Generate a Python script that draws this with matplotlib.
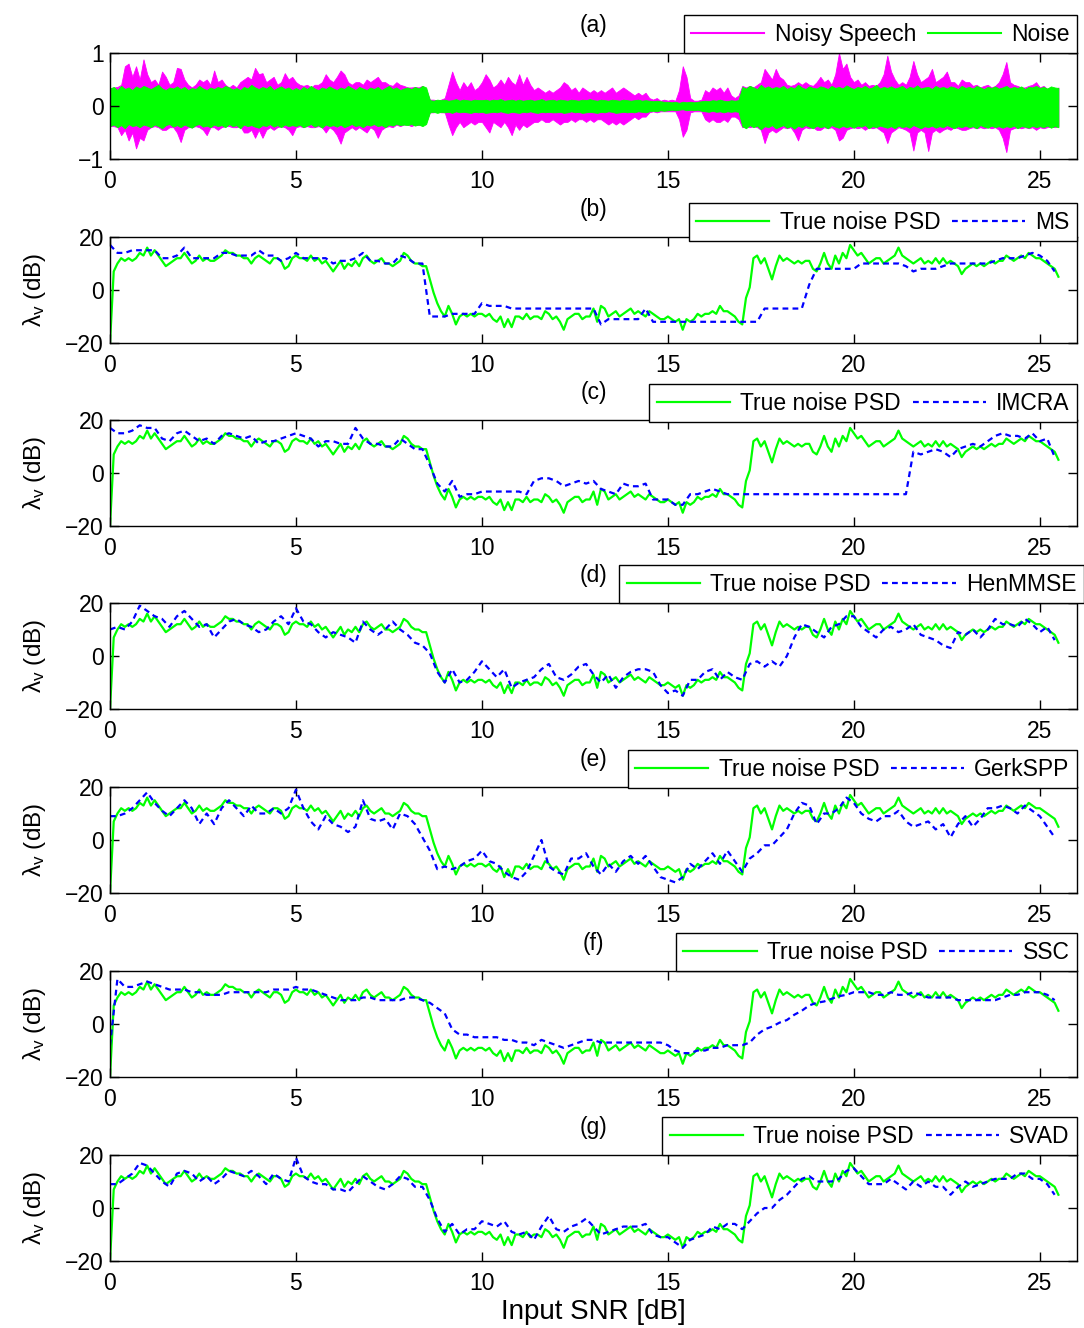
import numpy as np
import matplotlib
matplotlib.use("Agg")
import matplotlib.pyplot as plt
from matplotlib.lines import Line2D

plt.rcParams['font.family'] = ['Liberation Sans', 'DejaVu Sans']
plt.rcParams['mathtext.fontset'] = 'custom'
plt.rcParams['mathtext.rm'] = 'Liberation Sans'
plt.rcParams['mathtext.it'] = 'Liberation Sans'
plt.rcParams['mathtext.bf'] = 'Liberation Sans:bold'

# ---------------- data ----------------
# time grids (s)
t_fine = np.arange(256) * 0.1      # 0.0 .. 25.5
t_est = np.arange(128) * 0.2       # 0.0 .. 25.4

# panel (a): waveform envelopes (noisy speech upper/lower, noise upper/lower)
speech_up = [
    0.33, 0.35, 0.36, 0.40, 0.75, 0.80, 0.55, 0.75, 0.50, 0.88,
    0.60, 0.45, 0.50, 0.40, 0.65, 0.55, 0.40, 0.45, 0.72, 0.70,
    0.50, 0.40, 0.35, 0.40, 0.50, 0.45, 0.50, 0.40, 0.67, 0.45,
    0.50, 0.40, 0.35, 0.40, 0.35, 0.45, 0.50, 0.55, 0.50, 0.72,
    0.60, 0.62, 0.45, 0.50, 0.55, 0.40, 0.45, 0.62, 0.50, 0.55,
    0.45, 0.40, 0.38, 0.40, 0.35, 0.40, 0.40, 0.45, 0.60, 0.50,
    0.45, 0.55, 0.67, 0.60, 0.45, 0.40, 0.45, 0.45, 0.40, 0.50,
    0.45, 0.50, 0.55, 0.45, 0.45, 0.40, 0.38, 0.45, 0.40, 0.38,
    0.35, 0.35, 0.36, 0.35, 0.38, 0.30, 0.12, 0.12, 0.10, 0.12,
    0.15, 0.40, 0.65, 0.45, 0.30, 0.45, 0.35, 0.45, 0.30, 0.35,
    0.45, 0.60, 0.50, 0.35, 0.40, 0.50, 0.40, 0.55, 0.45, 0.40,
    0.60, 0.40, 0.55, 0.40, 0.30, 0.35, 0.30, 0.25, 0.30, 0.25,
    0.30, 0.35, 0.45, 0.40, 0.30, 0.35, 0.25, 0.35, 0.30, 0.25,
    0.30, 0.25, 0.30, 0.25, 0.30, 0.35, 0.25, 0.30, 0.35, 0.30,
    0.25, 0.20, 0.25, 0.20, 0.25, 0.15, 0.12, 0.15, 0.10, 0.12,
    0.10, 0.12, 0.10, 0.30, 0.75, 0.55, 0.15, 0.10, 0.10, 0.12,
    0.30, 0.25, 0.35, 0.30, 0.35, 0.25, 0.35, 0.20, 0.15, 0.20,
    0.38, 0.35, 0.38, 0.35, 0.40, 0.45, 0.70, 0.60, 0.50, 0.70,
    0.55, 0.50, 0.40, 0.38, 0.40, 0.45, 0.40, 0.45, 0.40, 0.38,
    0.45, 0.55, 0.45, 0.50, 0.40, 0.60, 1.00, 0.70, 0.80, 0.55,
    0.45, 0.50, 0.40, 0.45, 0.38, 0.40, 0.38, 0.45, 0.60, 0.95,
    0.65, 0.50, 0.40, 0.45, 0.40, 0.55, 0.85, 0.60, 0.45, 0.50,
    0.55, 0.70, 0.45, 0.50, 0.55, 0.65, 0.45, 0.45, 0.38, 0.50,
    0.45, 0.45, 0.38, 0.40, 0.35, 0.38, 0.40, 0.35, 0.38, 0.45,
    0.60, 0.83, 0.45, 0.40, 0.38, 0.35, 0.35, 0.38, 0.40, 0.45,
    0.35, 0.38, 0.32, 0.35, 0.30, 0.35]
speech_lo = [
    -0.38, -0.38, -0.40, -0.55, -0.45, -0.65, -0.50, -0.80, -0.60, -0.65,
    -0.45, -0.40, -0.38, -0.40, -0.45, -0.45, -0.40, -0.40, -0.50, -0.68,
    -0.45, -0.40, -0.40, -0.38, -0.40, -0.45, -0.55, -0.40, -0.40, -0.45,
    -0.40, -0.38, -0.38, -0.40, -0.40, -0.38, -0.50, -0.50, -0.45, -0.60,
    -0.45, -0.60, -0.45, -0.40, -0.45, -0.40, -0.38, -0.40, -0.45, -0.55,
    -0.40, -0.38, -0.40, -0.38, -0.40, -0.40, -0.38, -0.40, -0.50, -0.40,
    -0.45, -0.55, -0.71, -0.50, -0.45, -0.40, -0.45, -0.40, -0.45, -0.50,
    -0.40, -0.45, -0.60, -0.45, -0.40, -0.38, -0.40, -0.35, -0.38, -0.35,
    -0.35, -0.38, -0.35, -0.36, -0.35, -0.30, -0.12, -0.12, -0.10, -0.12,
    -0.12, -0.35, -0.55, -0.40, -0.30, -0.40, -0.35, -0.30, -0.35, -0.30,
    -0.30, -0.40, -0.50, -0.30, -0.35, -0.40, -0.30, -0.40, -0.55, -0.35,
    -0.45, -0.35, -0.40, -0.35, -0.30, -0.30, -0.25, -0.30, -0.30, -0.25,
    -0.30, -0.35, -0.30, -0.30, -0.25, -0.30, -0.25, -0.25, -0.30, -0.25,
    -0.30, -0.25, -0.25, -0.30, -0.35, -0.30, -0.35, -0.30, -0.35, -0.30,
    -0.25, -0.20, -0.25, -0.20, -0.20, -0.12, -0.10, -0.12, -0.10, -0.10,
    -0.10, -0.10, -0.10, -0.25, -0.58, -0.45, -0.12, -0.10, -0.10, -0.10,
    -0.25, -0.30, -0.25, -0.30, -0.30, -0.25, -0.30, -0.20, -0.20, -0.25,
    -0.40, -0.38, -0.40, -0.38, -0.40, -0.45, -0.70, -0.50, -0.45, -0.50,
    -0.45, -0.40, -0.42, -0.40, -0.50, -0.65, -0.45, -0.40, -0.42, -0.40,
    -0.45, -0.45, -0.40, -0.42, -0.40, -0.45, -0.65, -0.60, -0.45, -0.42,
    -0.40, -0.42, -0.40, -0.45, -0.40, -0.42, -0.40, -0.45, -0.50, -0.70,
    -0.50, -0.45, -0.40, -0.42, -0.45, -0.50, -0.84, -0.50, -0.45, -0.50,
    -0.85, -0.50, -0.45, -0.50, -0.45, -0.42, -0.45, -0.40, -0.42, -0.45,
    -0.45, -0.42, -0.40, -0.42, -0.40, -0.42, -0.40, -0.42, -0.40, -0.45,
    -0.60, -0.87, -0.45, -0.42, -0.40, -0.42, -0.40, -0.42, -0.40, -0.45,
    -0.40, -0.42, -0.40, -0.38, -0.40, -0.38]
noise_up = [
    0.33, 0.36, 0.30, 0.38, 0.32, 0.35, 0.30, 0.37, 0.33, 0.38,
    0.35, 0.32, 0.36, 0.40, 0.33, 0.30, 0.35, 0.33, 0.37, 0.32,
    0.36, 0.30, 0.34, 0.32, 0.38, 0.33, 0.30, 0.35, 0.32, 0.36,
    0.33, 0.38, 0.35, 0.31, 0.34, 0.30, 0.36, 0.33, 0.40, 0.35,
    0.32, 0.36, 0.33, 0.38, 0.30, 0.34, 0.37, 0.32, 0.35, 0.30,
    0.34, 0.30, 0.36, 0.32, 0.38, 0.33, 0.30, 0.35, 0.32, 0.37,
    0.33, 0.30, 0.35, 0.32, 0.38, 0.34, 0.30, 0.36, 0.33, 0.30,
    0.35, 0.32, 0.36, 0.30, 0.34, 0.38, 0.32, 0.35, 0.30, 0.33,
    0.35, 0.32, 0.36, 0.33, 0.38, 0.35, 0.11, 0.10, 0.12, 0.11,
    0.12, 0.10, 0.11, 0.13, 0.10, 0.12, 0.11, 0.10, 0.12, 0.11,
    0.11, 0.12, 0.10, 0.12, 0.11, 0.13, 0.10, 0.11, 0.12, 0.10,
    0.12, 0.10, 0.11, 0.12, 0.10, 0.11, 0.13, 0.10, 0.11, 0.12,
    0.10, 0.12, 0.11, 0.10, 0.12, 0.11, 0.10, 0.12, 0.11, 0.13,
    0.11, 0.10, 0.12, 0.11, 0.10, 0.12, 0.11, 0.10, 0.12, 0.11,
    0.10, 0.11, 0.12, 0.10, 0.11, 0.10, 0.09, 0.10, 0.09, 0.08,
    0.08, 0.07, 0.08, 0.06, 0.08, 0.07, 0.08, 0.07, 0.08, 0.09,
    0.10, 0.09, 0.11, 0.10, 0.12, 0.10, 0.09, 0.11, 0.10, 0.11,
    0.36, 0.33, 0.38, 0.35, 0.32, 0.40, 0.34, 0.37, 0.33, 0.36,
    0.34, 0.38, 0.32, 0.36, 0.33, 0.40, 0.35, 0.32, 0.37, 0.34,
    0.33, 0.37, 0.35, 0.32, 0.38, 0.34, 0.36, 0.33, 0.39, 0.35,
    0.32, 0.36, 0.34, 0.38, 0.33, 0.35, 0.40, 0.33, 0.36, 0.34,
    0.37, 0.33, 0.35, 0.38, 0.32, 0.36, 0.34, 0.39, 0.33, 0.35,
    0.36, 0.32, 0.38, 0.34, 0.36, 0.33, 0.37, 0.35, 0.32, 0.38,
    0.34, 0.36, 0.33, 0.38, 0.35, 0.32, 0.36, 0.34, 0.37, 0.33,
    0.35, 0.38, 0.33, 0.36, 0.34, 0.37, 0.32, 0.36, 0.35, 0.38,
    0.34, 0.36, 0.33, 0.37, 0.35, 0.34]
noise_lo = [
    -0.38, -0.35, -0.40, -0.36, -0.42, -0.34, -0.38, -0.36, -0.40, -0.35,
    -0.37, -0.40, -0.35, -0.38, -0.42, -0.36, -0.34, -0.39, -0.36, -0.40,
    -0.35, -0.38, -0.41, -0.36, -0.34, -0.39, -0.37, -0.40, -0.35, -0.38,
    -0.36, -0.40, -0.34, -0.38, -0.36, -0.42, -0.35, -0.38, -0.36, -0.39,
    -0.41, -0.36, -0.38, -0.34, -0.39, -0.36, -0.40, -0.35, -0.38, -0.36,
    -0.38, -0.35, -0.40, -0.37, -0.34, -0.39, -0.36, -0.41, -0.35, -0.38,
    -0.36, -0.39, -0.35, -0.40, -0.37, -0.34, -0.38, -0.36, -0.40, -0.35,
    -0.37, -0.34, -0.38, -0.36, -0.40, -0.35, -0.37, -0.34, -0.36, -0.35,
    -0.36, -0.34, -0.37, -0.35, -0.38, -0.34, -0.12, -0.11, -0.13, -0.11,
    -0.12, -0.11, -0.13, -0.10, -0.12, -0.11, -0.12, -0.13, -0.11, -0.12,
    -0.11, -0.13, -0.12, -0.11, -0.12, -0.10, -0.12, -0.13, -0.11, -0.12,
    -0.13, -0.11, -0.12, -0.10, -0.12, -0.13, -0.11, -0.12, -0.11, -0.12,
    -0.12, -0.11, -0.13, -0.12, -0.10, -0.12, -0.11, -0.13, -0.12, -0.11,
    -0.12, -0.13, -0.11, -0.12, -0.10, -0.11, -0.13, -0.12, -0.11, -0.12,
    -0.11, -0.12, -0.10, -0.11, -0.12, -0.10, -0.09, -0.10, -0.08, -0.09,
    -0.08, -0.07, -0.08, -0.07, -0.06, -0.08, -0.07, -0.08, -0.07, -0.09,
    -0.10, -0.11, -0.09, -0.11, -0.10, -0.12, -0.10, -0.11, -0.10, -0.11,
    -0.38, -0.42, -0.36, -0.40, -0.37, -0.44, -0.38, -0.40, -0.36, -0.42,
    -0.39, -0.36, -0.41, -0.38, -0.43, -0.37, -0.40, -0.36, -0.39, -0.42,
    -0.37, -0.40, -0.38, -0.42, -0.36, -0.39, -0.41, -0.37, -0.40, -0.38,
    -0.41, -0.37, -0.39, -0.36, -0.42, -0.38, -0.40, -0.37, -0.39, -0.41,
    -0.38, -0.42, -0.37, -0.40, -0.38, -0.41, -0.36, -0.39, -0.42, -0.38,
    -0.40, -0.37, -0.41, -0.38, -0.40, -0.36, -0.39, -0.42, -0.38, -0.40,
    -0.37, -0.40, -0.38, -0.42, -0.36, -0.39, -0.41, -0.37, -0.40, -0.38,
    -0.41, -0.38, -0.40, -0.37, -0.42, -0.38, -0.39, -0.41, -0.37, -0.40,
    -0.38, -0.40, -0.37, -0.41, -0.38, -0.40]

# true noise PSD (dB), on t_fine
true_psd = [
    -20, 7, 10, 12, 11, 12, 11, 12, 14, 13,
    16, 13, 15, 13, 11, 9, 10, 11, 12, 12,
    14, 12, 10, 11, 13, 11, 12, 11, 11, 12,
    13, 15, 14, 14, 13, 13, 12, 12, 10, 12,
    13, 12, 11, 10, 12, 12, 11, 8, 9, 12,
    13, 12, 12, 11, 13, 11, 12, 10, 11, 9,
    7, 9, 11, 8, 10, 9, 11, 9, 12, 13,
    11, 10, 11, 12, 10, 10, 9, 10, 11, 14,
    13, 11, 10, 10, 9, 9, 4, -1, -5, -8,
    -10, -6, -9, -13, -10, -9, -10, -9, -10, -9,
    -9, -10, -9, -11, -12, -10, -14, -11, -14, -10,
    -10, -11, -9, -11, -10, -10, -11, -8, -9, -11,
    -10, -12, -15, -11, -10, -9, -9, -11, -10, -10,
    -7, -12, -6, -7, -10, -9, -8, -10, -9, -8,
    -7, -9, -8, -9, -10, -8, -9, -10, -11, -11,
    -10, -11, -12, -11, -15, -11, -12, -11, -9, -10,
    -9, -9, -8, -9, -6, -8, -8, -9, -10, -12,
    -13, -3, 1, 12, 13, 10, 12, 8, 4, 9,
    13, 11, 12, 11, 10, 11, 10, 11, 11, 8,
    7, 10, 14, 10, 8, 13, 10, 14, 12, 17,
    15, 13, 14, 12, 10, 11, 12, 12, 10, 11,
    12, 13, 16, 13, 12, 11, 10, 11, 12, 10,
    11, 10, 12, 10, 12, 10, 11, 10, 9, 6,
    8, 9, 10, 9, 10, 9, 10, 11, 10, 11,
    11, 13, 12, 11, 12, 13, 12, 14, 13, 12,
    12, 11, 10, 9, 8, 5]

# estimated noise PSDs (dB), on t_est
ms_est = [
    17, 14, 14, 15, 15, 15, 15, 12, 12, 13,
    16, 12, 12, 12, 12, 14, 14, 13, 13, 13,
    15, 13, 13, 11, 12, 14, 12, 12, 12, 12,
    10, 11, 11, 12, 14, 11, 11, 10, 10, 13,
    12, 10, 10, -10, -10, -10, -9, -9, -9, -9,
    -5, -6, -6, -6, -7, -7, -7, -7, -7, -7,
    -7, -7, -7, -7, -7, -7, -13, -11, -11, -11,
    -11, -11, -7, -12, -12, -12, -12, -12, -12, -12,
    -12, -12, -12, -12, -12, -12, -12, -12, -7, -7,
    -7, -7, -7, -7, 2, 8, 8, 8, 8, 8,
    8, 10, 10, 10, 10, 10, 10, 9, 7, 8,
    8, 8, 9, 10, 10, 10, 10, 10, 10, 11,
    12, 12, 12, 13, 14, 13, 11, 7]
imcra_est = [
    17, 15, 15, 16, 18, 17, 17, 13, 12, 15,
    16, 14, 12, 13, 11, 14, 15, 14, 13, 14,
    11, 12, 12, 13, 14, 15, 14, 13, 10, 12,
    12, 11, 11, 17, 13, 11, 11, 10, 10, 13,
    11, 9, 9, 3, -4, -7, -3, -9, -8, -8,
    -7, -7, -7, -7, -7, -7, -8, -3, -2, -2,
    -3, -5, -4, -3, -4, -3, -6, -7, -8, -4,
    -5, -5, -4, -10, -10, -10, -12, -12, -8, -8,
    -7, -6, -7, -8, -8, -8, -8, -8, -8, -8,
    -8, -8, -8, -8, -8, -8, -8, -8, -8, -8,
    -8, -8, -8, -8, -8, -8, -8, -8, 8, 7,
    8, 9, 8, 6, 9, 10, 11, 10, 12, 14,
    15, 14, 14, 13, 15, 12, 13, 6]
henmmse_est = [
    10, 11, 10, 13, 19, 17, 15, 14, 11, 15,
    17, 14, 11, 12, 7, 10, 13, 14, 12, 11,
    9, 10, 13, 15, 12, 18, 13, 12, 9, 7,
    9, 8, 7, 5, 13, 10, 8, 10, 13, 10,
    8, 5, 4, 1, -6, -10, -5, -10, -9, -6,
    -2, -5, -8, -5, -12, -10, -9, -8, -5, -3,
    -8, -9, -7, -4, -3, -7, -10, -7, -12, -8,
    -6, -5, -5, -6, -11, -14, -13, -15, -9, -9,
    -6, -5, -9, -6, -8, -9, -3, -2, -4, -2,
    -4, 0, 7, 12, 11, 9, 7, 11, 12, 15,
    15, 11, 9, 7, 10, 11, 9, 10, 12, 8,
    7, 6, 4, 3, 9, 8, 10, 7, 10, 14,
    12, 12, 11, 14, 12, 9, 11, 6]
gerkspp_est = [
    9, 9, 10, 12, 15, 18, 14, 11, 9, 12,
    15, 12, 6, 10, 6, 12, 15, 12, 9, 13,
    10, 10, 12, 10, 12, 19, 12, 7, 4, 9,
    6, 5, 3, 5, 15, 8, 7, 8, 4, 10,
    9, 6, 1, -4, -11, -10, -11, -10, -8, -7,
    -4, -8, -9, -12, -14, -15, -12, -6, 0, -10,
    -12, -13, -7, -7, -5, -10, -13, -9, -12, -8,
    -6, -9, -6, -10, -14, -15, -16, -14, -9, -11,
    -8, -5, -9, -4, -8, -12, -7, -5, -2, -2,
    1, 4, 10, 14, 13, 6, 10, 10, 12, 16,
    14, 10, 8, 7, 9, 9, 11, 7, 5, 6,
    7, 4, 6, 1, 6, 9, 5, 8, 12, 12,
    13, 12, 10, 13, 11, 9, 5, 1]
ssc_est = [
    -8, 17, 14, 14, 15, 16, 15, 14, 13, 13,
    13, 12, 12, 11, 11, 11, 12, 12, 12, 12,
    12, 12, 13, 13, 13, 14, 13, 13, 12, 11,
    10, 9, 9, 9, 10, 10, 9, 9, 9, 9,
    10, 10, 9, 8, 6, 4, -2, -4, -4, -5,
    -5, -5, -5, -6, -6, -7, -7, -8, -6, -7,
    -8, -9, -8, -7, -6, -6, -7, -7, -7, -7,
    -7, -7, -7, -7, -7, -8, -10, -11, -11, -10,
    -10, -9, -9, -8, -8, -8, -7, -4, -2, -1,
    0.5, 1.5, 3.5, 5, 7, 8, 8.5, 9.5, 10.5, 11,
    12, 12, 12, 11, 11, 12, 11, 11, 12, 11,
    10, 10, 10, 10, 9, 9, 9, 9, 9, 9,
    10, 11, 11, 12, 12, 12, 11, 9]
svad_est = [
    9, 9, 11, 13, 17, 16, 13, 10, 8, 13,
    14, 13, 10, 12, 9, 11, 14, 13, 12, 14,
    12, 9, 13, 11, 10, 19, 12, 10, 9, 9,
    7, 7, 6, 9, 12, 10, 8, 7, 9, 12,
    11, 8, 8, 3, -4, -9, -6, -10, -8, -8,
    -5, -6, -7, -5, -9, -10, -9, -12, -7, -3,
    -8, -9, -7, -6, -4, -7, -10, -9, -8, -7,
    -7, -7, -6, -10, -11, -11, -13, -15, -12, -11,
    -10, -7, -8, -6, -6, -8, -5, -2, 0, 0,
    3, 5, 8, 11, 12, 10, 10, 10, 11, 14,
    15, 12, 9, 9, 9, 11, 9, 7, 10, 8,
    10, 8, 8, 5, 8, 10, 8, 9, 10, 11,
    11, 11, 13, 13, 11, 11, 9, 5]

panel_tags = ['(a)', '(b)', '(c)', '(d)', '(e)', '(f)', '(g)']
est_names = ['MS', 'IMCRA', 'HenMMSE', 'GerkSPP', 'SSC', 'SVAD']
est_series = [ms_est, imcra_est, henmmse_est, gerkspp_est, ssc_est, svad_est]
x_ticks = [0, 5, 10, 15, 20, 25]

# ---------------- layout ----------------
W, H = 1084, 1328
fig = plt.figure(figsize=(W / 100, H / 100), dpi=100)
tops = [53, 237, 420, 603, 787, 971, 1155]
ax_h = 106
left_px, right_px = 110, 1077
leg_y = [1.0, 0.962, 0.98, 1.0, 0.99, 1.0, 1.0]
leg_x = [1.0, 1.0, 1.0, 1.007, 1.0, 1.0, 1.0]

GREEN = '#00ff00'
BLUE = '#0000ff'
MAGENTA = '#ff00ff'
FS = 16.5
dash = (0, (2.6, 1.9))

axes = []
for i, top in enumerate(tops):
    ax = fig.add_axes([left_px / W, 1 - (top + ax_h) / H,
                       (right_px - left_px) / W, ax_h / H])
    axes.append(ax)

def style(ax, yticks):
    ax.set_xlim(0, 26)
    ax.set_xticks(x_ticks)
    ax.set_yticks(yticks)
    ax.tick_params(direction='in', length=6.5, width=1.0, top=True, right=True,
                   labelsize=FS)
    ax.tick_params(axis='x', pad=8)
    ax.tick_params(axis='y', pad=4.5)
    for s in ax.spines.values():
        s.set_linewidth(1.0)

def add_legend(ax, handles, labels, i):
    leg = ax.legend(handles, labels, ncol=2, loc='lower right',
                    bbox_to_anchor=(leg_x[i], leg_y[i]), borderaxespad=0,
                    fontsize=FS, frameon=True, fancybox=False, framealpha=1,
                    edgecolor='black', handlelength=3.2, handletextpad=0.45,
                    columnspacing=0.5, borderpad=0.32)
    leg.get_frame().set_linewidth(1.0)

def add_tag(ax, tag):
    ax.annotate(tag, xy=(0.5, 1.0), xycoords='axes fraction',
                xytext=(0, 20), textcoords='offset points',
                ha='center', va='center', fontsize=FS)

# panel (a)
ax = axes[0]
ax.fill_between(t_fine, speech_lo, speech_up, color=MAGENTA, lw=0.6,
                edgecolor=MAGENTA)
ax.fill_between(t_fine, noise_lo, noise_up, color=GREEN, lw=0.6,
                edgecolor=GREEN)
ax.set_ylim(-1, 1)
style(ax, [-1, 0, 1])
add_tag(ax, panel_tags[0])
add_legend(ax, [Line2D([], [], color=MAGENTA, lw=1.5),
                Line2D([], [], color=GREEN, lw=1.5)],
           ['Noisy Speech', 'Noise'], 0)

# panels (b)-(g)
for k in range(6):
    ax = axes[k + 1]
    l1, = ax.plot(t_fine, true_psd, color=GREEN, lw=1.6)
    l2, = ax.plot(t_est, est_series[k], color=BLUE, lw=1.6, linestyle=dash)
    ax.set_ylim(-20, 20)
    style(ax, [-20, 0, 20])
    ax.set_ylabel(r'$\lambda_\mathrm{v}$ (dB)', fontsize=FS + 1)
    ax.yaxis.set_label_coords(-0.064, 0.5)
    add_tag(ax, panel_tags[k + 1])
    add_legend(ax, [l1, l2], ['True noise PSD', est_names[k]], k + 1)

axes[-1].set_xlabel('Input SNR [dB]', fontsize=20, labelpad=3)

fig.savefig('out.png', dpi=100)
